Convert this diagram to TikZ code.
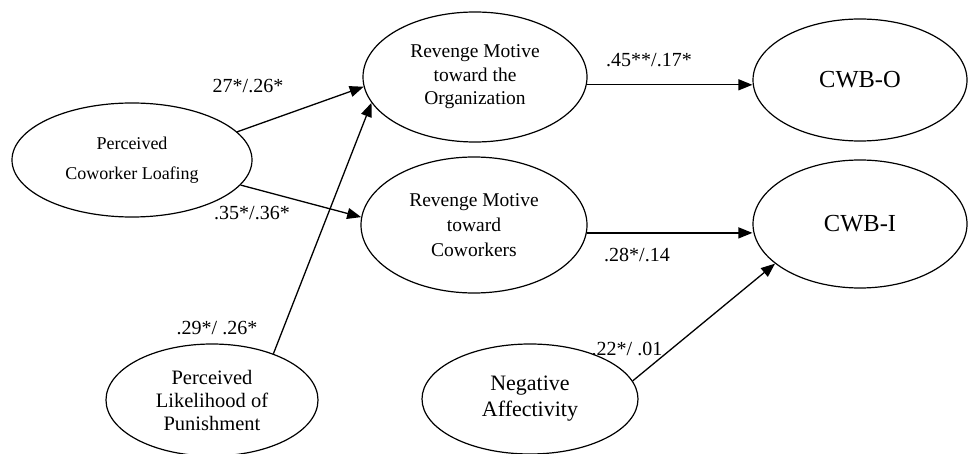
\documentclass[tikz,border=0pt]{standalone}
\usepackage{fontspec}
\setmainfont{Liberation Serif}
\usetikzlibrary{shapes.geometric,arrows.meta}
\tikzset{
  latent/.style={ellipse,draw,line width=1.2pt,inner sep=0pt,align=center},
  path/.style={line width=1.3pt,-{Triangle[length=14pt,width=11pt]}},
  coef/.style={inner sep=0pt,font=\fontsize{20}{24}\selectfont}
}
\begin{document}
\begin{tikzpicture}[x=1pt,y=-1pt]
\useasboundingbox (0,0) rectangle (968,454);
\node[latent,minimum width=240pt,minimum height=114pt,font=\fontsize{18}{30}\selectfont] (pcl) at (132,160) {Perceived\\Coworker Loafing};
\node[latent,minimum width=224pt,minimum height=130pt,font=\fontsize{19.5}{23.5}\selectfont] (rmo) at (475,77) {Revenge Motive\\toward the\\Organization};
\node[latent,minimum width=226pt,minimum height=136pt,font=\fontsize{19.5}{25}\selectfont] (rmc) at (474,225) {Revenge Motive\\toward\\Coworkers};
\node[latent,minimum width=214pt,minimum height=122pt,font=\fontsize{24.5}{28}\selectfont] (cwbo) at (860,80) {CWB-O};
\node[latent,minimum width=214pt,minimum height=128pt,font=\fontsize{24.5}{28}\selectfont] (cwbi) at (860,224) {CWB-I};
\node[latent,minimum width=212pt,minimum height=112pt,font=\fontsize{20.5}{23}\selectfont] (plp) at (212,400) {Perceived\\Likelihood of\\Punishment};
\node[latent,minimum width=216pt,minimum height=110pt,font=\fontsize{22}{26}\selectfont] (na) at (530,399) {Negative\\Affectivity};

\draw[path] (pcl.15) -- (rmo.185);
\draw[path] (pcl.-13) -- (rmc.176);
\draw[path] (plp.37) -- (rmo.194);
\draw[path] (rmo.-4) -- (rmo.-4 -| cwbo.west);
\draw[path] (rmc.-4) -- (rmc.-4 -| cwbi.west);
\draw[path] (na.10) -- (cwbi.205);

\node[coef] (c1) at (248,86) {27*/.26*};
\node[coef] (c2) at (252,213) {.35*/.36*};
\node[coef] (c3) at (217,328) {.29*/ .26*};
\node[coef] (c4) at (649,60) {.45**/.17*};
\node[coef] (c5) at (637,255) {.28*/.14};
\node[coef] (c6) at (627,349) {.22*/ .01};
\end{tikzpicture}
\end{document}
